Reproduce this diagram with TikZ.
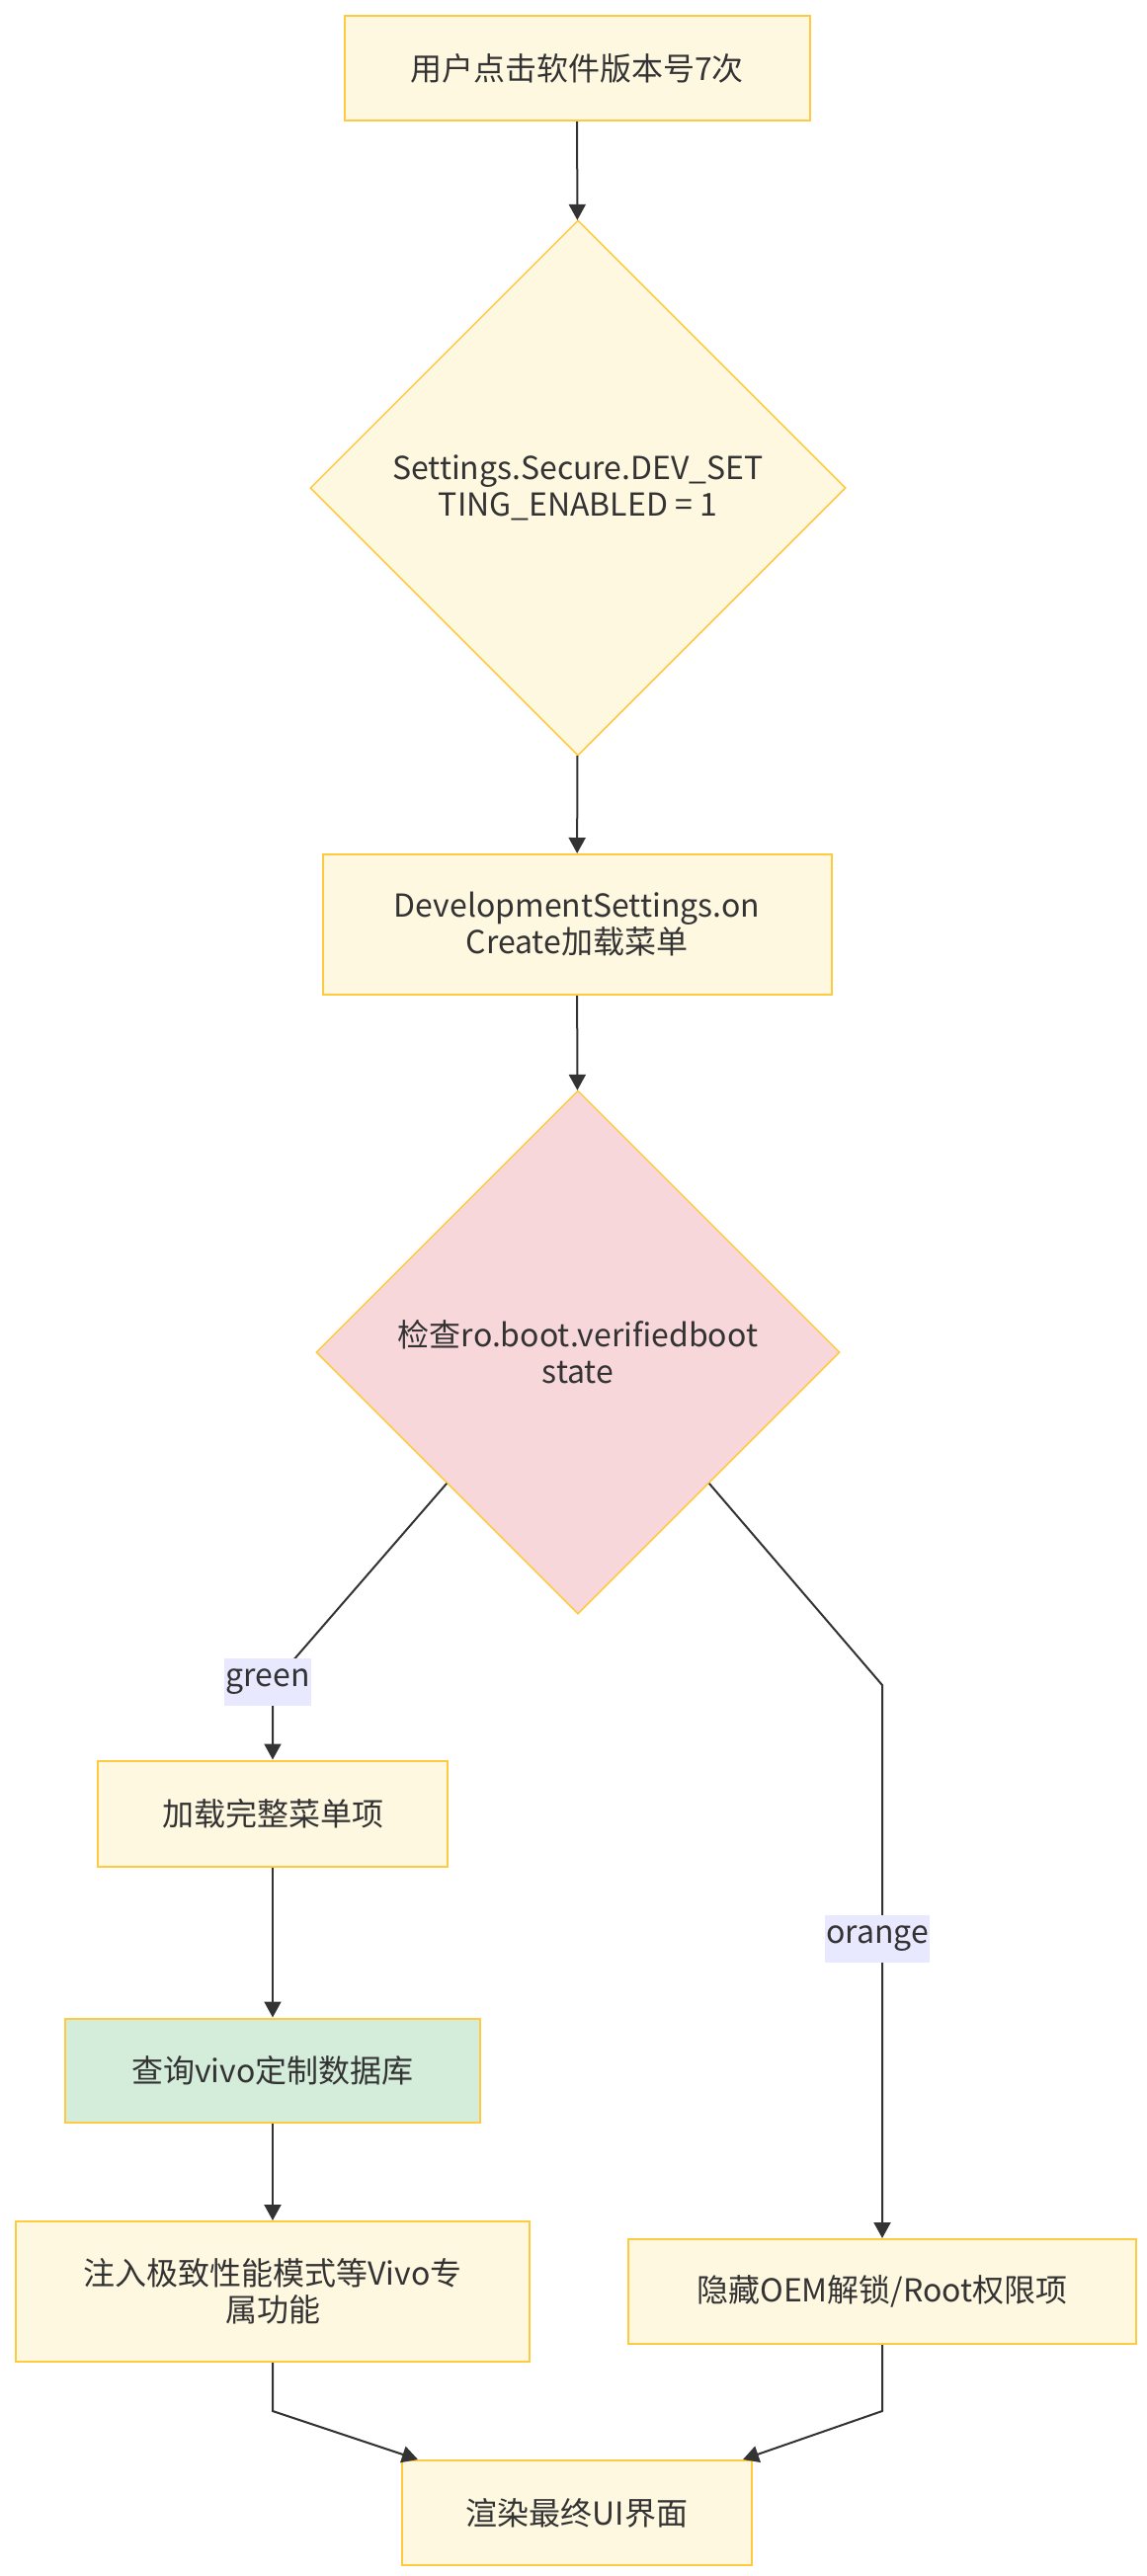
\documentclass[tikz,border=0pt]{standalone}
\usepackage{fontspec}
\setmainfont{Noto Sans CJK SC}
\usepackage{tikz}
\usetikzlibrary{shapes.geometric,arrows.meta}
\definecolor{boxfill}{HTML}{FFF8E1}
\definecolor{boxline}{HTML}{FFCA40}
\definecolor{pinkfill}{HTML}{F8D7DA}
\definecolor{greenfill}{HTML}{D4EDDA}
\definecolor{lblfill}{HTML}{E8E8FF}
\definecolor{txtgray}{HTML}{333333}

\begin{document}
\begin{tikzpicture}[x=1pt, y=-1pt, font=\fontsize{32}{37}\selectfont, text=txtgray,
    box/.style={draw=boxline, fill=boxfill, line width=2pt, align=center, inner sep=0pt},
    decision/.style={diamond, aspect=1, draw=boxline, fill=boxfill, line width=1.5pt, align=center, inner sep=0pt},
    lbl/.style={fill=lblfill, inner xsep=1pt, inner ysep=0pt, minimum height=48pt},
    line/.style={draw=txtgray, line width=2pt, -{Triangle[length=16pt,width=17pt]}}]
    \useasboundingbox (0,0) rectangle (1160,2608);
    \node[box, minimum width=471pt, minimum height=106pt] (click) at (584,69) {用户点击软件版本号7次};
    \node[decision, minimum size=542pt] (devflag) at (585,494) {Settings.Secure.DEV\_SET\\TING\_ENABLED = 1};
    \node[box, minimum width=515pt, minimum height=142pt] (oncreate) at (584,936) {DevelopmentSettings.on\\Create加载菜单};
    \node[decision, fill=pinkfill, minimum size=530pt] (verify) at (585,1369) {检查ro.boot.verifiedboot\\state};
    \node[box, minimum width=354pt, minimum height=107pt] (fullmenu) at (276,1836) {加载完整菜单项};
    \node[box, fill=greenfill, minimum width=420pt, minimum height=105pt] (vivodb) at (276,2096) {查询vivo定制数据库};
    \node[box, minimum width=520pt, minimum height=142pt] (inject) at (276,2320) {注入极致性能模式等Vivo专\\属功能};
    \node[box, minimum width=514pt, minimum height=106pt] (hide) at (893,2320) {隐藏OEM解锁/Root权限项};
    \node[box, minimum width=354pt, minimum height=106pt] (render) at (584,2544) {渲染最终UI界面};
    % bends of the branch lines
    \coordinate (gbend) at (276,1705);
    \coordinate (obend) at (893,1706);
    \coordinate (ljoin) at (276,2441);
    \coordinate (rjoin) at (893,2441);
    \draw[line] (click) -- (devflag);
    \draw[line] (devflag) -- (oncreate);
    \draw[line] (oncreate) -- (verify);
    \draw[line] (verify.south west) -- (gbend) -- (fullmenu);
    \draw[line] (verify.south east) -- (obend) -- (hide);
    \draw[line] (fullmenu) -- (vivodb);
    \draw[line] (vivodb) -- (inject);
    \draw[line] (inject) -- (ljoin) -- ([xshift=17pt]render.north west);
    \draw[line] (hide) -- (rjoin) -- ([xshift=-10pt]render.north east);
    \node[lbl] (green) at (271,1703) {green};
    \node[lbl] (orange) at (888,1963) {orange};
\end{tikzpicture}
\end{document}
